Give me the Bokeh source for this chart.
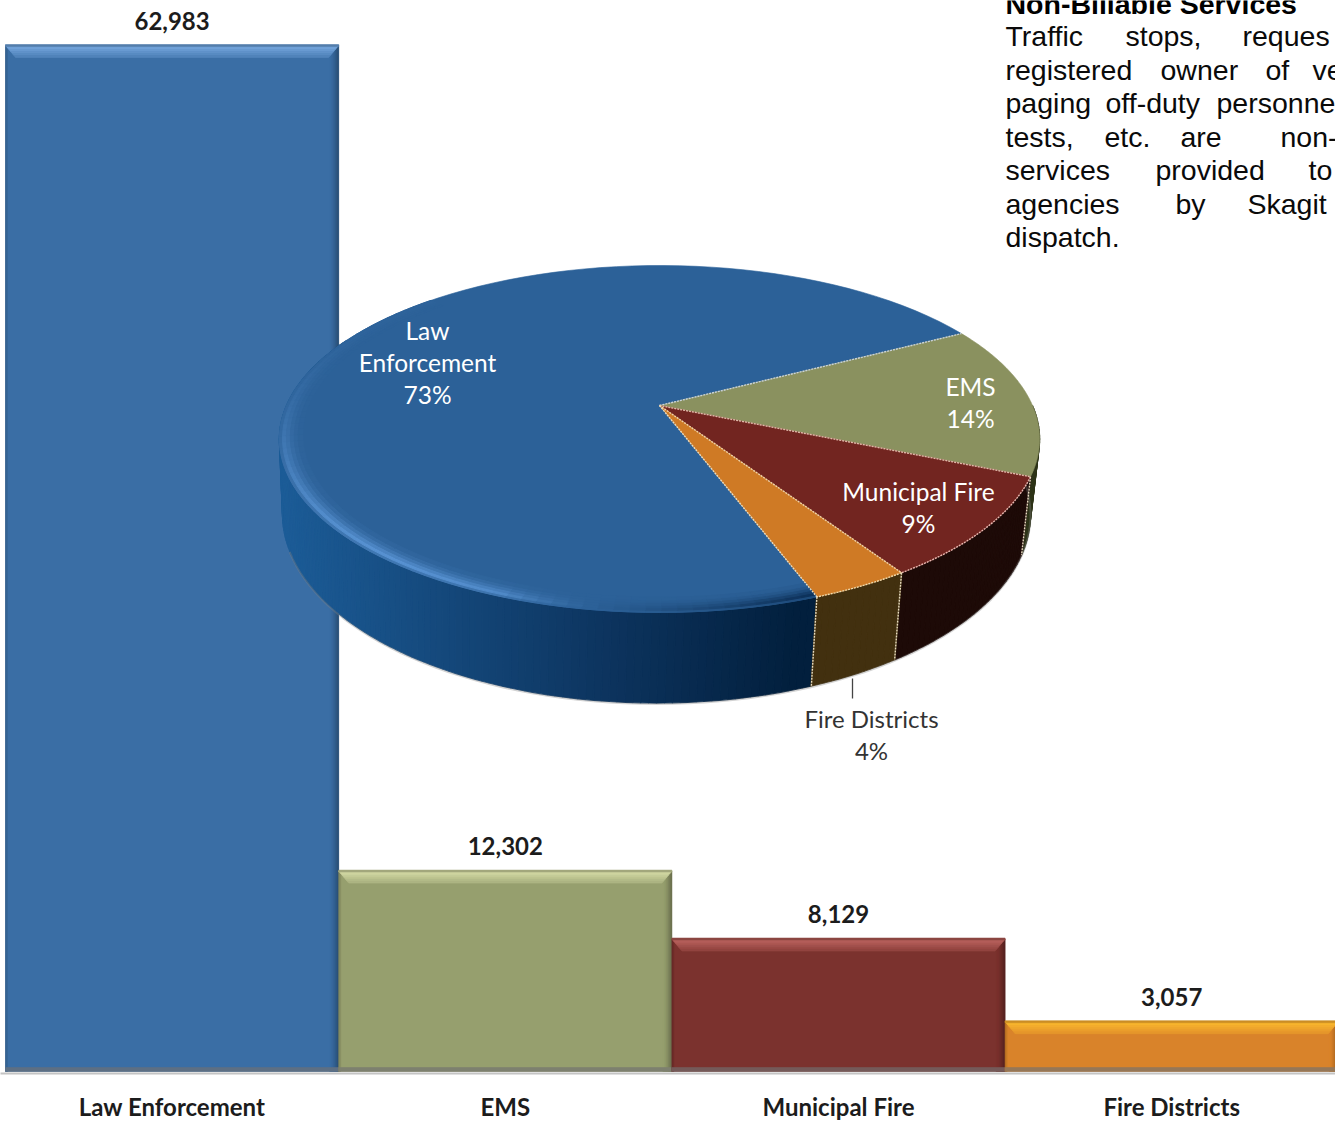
import math

from bokeh.core.properties import value
from bokeh.embed import file_html
from bokeh.models import ColumnDataSource, FixedTicker, Range1d
from bokeh.plotting import figure
from bokeh.resources import INLINE

# Dispatched non-billable services by agency type
categories = ["Law Enforcement", "EMS", "Municipal Fire", "Fire Districts"]
calls = [62983, 12302, 8129, 3057]
pie_labels = [["Law", "Enforcement", "73%"], ["EMS", "14%"], ["Municipal Fire", "9%"], ["Fire Districts", "4%"]]

bar_colors = ["#3a6ea5", "#969f6e", "#7b322e", "#d9832a"]
bevel_colors = ["#78a9e0", "#d6dca6", "#bd6560", "#fdbc2e"]
face_colors = ["#2c6198", "#8a915f", "#722520", "#cf7a25"]
wall_colors = ["#0c3058", "#2e3418", "#1d0a07", "#42300f"]

note_title = "Non-Billable Services"
note_rows = [
    ["Traffic", "stops,", "reques"],
    ["registered", "owner", "of", "ve"],
    ["paging", "off-duty", "personne"],
    ["tests,", "etc.", "are", "non-"],
    ["services", "provided", "to"],
    ["agencies", "by", "Skagit"],
    ["dispatch."],
]
note_word_x = [
    [1005, 1125, 1242],
    [1005, 1160, 1265, 1312],
    [1005, 1105, 1216],
    [1005, 1104, 1180, 1280],
    [1005, 1155, 1308],
    [1005, 1175, 1247],
    [1005],
]

WIDTH, HEIGHT = 1335, 1122
FRAME_H = 1073
ZERO_PX = 1071
TOP_PX = 45
PX_PER_CALL = (ZERO_PX - TOP_PX) / max(calls)
BAR_PX = 333.2
BAR_LEFT = 5

p = figure(
    width=WIDTH, height=HEIGHT, output_backend="svg", toolbar_location=None,
    x_range=Range1d(-BAR_LEFT / BAR_PX, (WIDTH - BAR_LEFT) / BAR_PX),
    y_range=Range1d(-(FRAME_H - ZERO_PX) / PX_PER_CALL, ZERO_PX / PX_PER_CALL),
    y_axis_location=None, min_border=0, frame_width=WIDTH, frame_height=FRAME_H,
    outline_line_color=None, background_fill_color="white",
)
p.grid.visible = False
p.extra_x_ranges["px"] = Range1d(0, WIDTH)
p.extra_y_ranges["px"] = Range1d(FRAME_H, 0)

axis = p.xaxis[0]
axis.ticker = FixedTicker(ticks=[i + 0.5 for i in range(len(categories))])
axis.major_label_overrides = {i + 0.5: c for i, c in enumerate(categories)}
axis.major_tick_line_color = None
axis.minor_tick_line_color = None
axis.axis_line_color = "#c4c4c4"
axis.axis_line_width = 2
axis.major_label_standoff = 12
axis.major_label_text_font = "Lato"
axis.major_label_text_font_style = "bold"
axis.major_label_text_font_size = "24px"
axis.major_label_text_color = "#1c1c1c"


def rgb(c):
    return tuple(int(c[i:i + 2], 16) for i in (1, 3, 5))


def mix(a, b, f):
    f = max(0.0, min(1.0, f))
    ca, cb = rgb(a), rgb(b)
    return "#%02x%02x%02x" % tuple(round(x + (y - x) * f) for x, y in zip(ca, cb))


def draw_patches(items, seam=0.6):
    """items are (xs, ys, colour) in page pixels."""
    p.patches(
        xs=[i[0] for i in items], ys=[i[1] for i in items],
        fill_color=[i[2] for i in items], line_color=[i[2] for i in items], line_width=seam,
        x_range_name="px", y_range_name="px",
    )


# Bars, with bevelled top and side edges
p.vbar(x=[i + 0.5 for i in range(len(calls))], top=calls, bottom=0, width=1.0,
       fill_color=bar_colors, line_color=None)

bevel = []
for i, v in enumerate(calls):
    left = BAR_LEFT + i * BAR_PX
    right = left + BAR_PX
    top = ZERO_PX - v * PX_PER_CALL
    base, light = bar_colors[i], bevel_colors[i]
    dark = mix(base, "#000000", 0.35)
    for k in range(8):
        f = k / 8
        x0, x1 = right - 9 + k * 9 / 8, right - 9 + (k + 1) * 9 / 8
        bevel.append(([x0, x1, x1, x0], [top, top, ZERO_PX, ZERO_PX], mix(base, dark, f ** 1.5)))
    for k in range(2):
        bevel.append(([left + k, left + k + 1, left + k + 1, left + k],
                      [top, top, ZERO_PX, ZERO_PX], mix(mix(dark, base, 0.5), base, k / 2)))
    for k in range(6):
        y0, y1 = top + k * 2, top + (k + 1) * 2
        inset0, inset1 = k * 10 / 6, (k + 1) * 10 / 6
        bevel.append(([left + inset0, right - inset0, right - inset1, left + inset1],
                      [y0, y0, y1, y1], mix(light, mix(base, light, 0.35), k / 5)))
    bevel.append(([left, right, right, left], [top - 1, top - 1, top + 1, top + 1], mix(light, dark, 0.45)))
    bevel.append(([left, right, right, left], [ZERO_PX - 4, ZERO_PX - 4, ZERO_PX, ZERO_PX], mix(base, "#707070", 0.65)))
draw_patches(bevel)

p.text(
    x=[i + 0.5 for i in range(len(calls))], y=calls,
    text=[f"{v:,}" for v in calls], y_offset=-25,
    text_align="center", text_baseline="middle",
    text_font=value("Lato"), text_font_style="bold", text_font_size="24px", text_color="#1c1c1c",
)

# Tilted pie: a unit circle seen through a perspective map
K = 0.193
total = sum(calls)
START = -28.0


def top_face(t, r=1.0):
    u, w = r * math.cos(math.radians(t)), r * math.sin(math.radians(t))
    d = 1 - K * w
    return 659 + 373 * u / d, 405 + 167 * w / d


def bottom_face(t):
    u, w = math.cos(math.radians(t)), math.sin(math.radians(t))
    d = 1 - K * w
    return 656 + 367 * u / d, 477 + 182 * w / d


# Slices run clockwise from EMS; Law Enforcement takes what is left of the circle
sweep = [v / total * 360 for v in calls]
ems_end = START + sweep[1]
muni_end = ems_end + sweep[2]
fire_end = muni_end + sweep[3]
law_end = START + 360

# Side wall
wall = []
t = 0.0
while t < 205:
    x0, y0 = top_face(t)
    x1, y1 = top_face(t + 1)
    bx0, by0 = bottom_face(t)
    bx1, by1 = bottom_face(t + 1)
    mid = t + 0.5
    if mid < ems_end:
        c = wall_colors[1]
    elif mid < muni_end:
        c = wall_colors[2]
    elif mid < fire_end:
        c = wall_colors[3]
    else:
        f = (x0 - 283) / (800 - 283)
        c = mix("#1c5c97", "#0d3560", f / 0.62) if f < 0.62 else mix("#0d3560", "#021f3d", (f - 0.62) / 0.38)
    wall.append(([x0, x1, bx1, bx0], [y0, y1, by1, by0], c))
    t += 1
draw_patches(wall, seam=1.2)

# Faint shadow under the wall
shadow = [bottom_face(a) for a in range(0, 160, 2)]
p.line([s[0] for s in shadow], [s[1] + 1 for s in shadow], line_color="#808080", line_alpha=0.35,
       line_width=2, x_range_name="px", y_range_name="px")


def wedge(a0, a1, color):
    pts = [top_face(a0 + (a1 - a0) * j / 90) for j in range(91)]
    return [659] + [q[0] for q in pts], [405] + [q[1] for q in pts], color


draw_patches([
    wedge(fire_end, law_end, face_colors[0]),
    wedge(START, ems_end, face_colors[1]),
    wedge(ems_end, muni_end, face_colors[2]),
    wedge(muni_end, fire_end, face_colors[3]),
])

# Bevel on the blue slice's rim: dark at the front, bright at the lower left
rim_radii = [1.0, 0.992, 0.982, 0.972, 0.962, 0.952, 0.94]
rim_profile = [0.45, 0.95, 0.7, 0.42, 0.22, 0.08]
rim = []
for band, strength_r in enumerate(rim_profile):
    r0, r1 = rim_radii[band], rim_radii[band + 1]
    a = fire_end
    while a < 225:
        q0, q1 = top_face(a, r0), top_face(a + 2, r0)
        q2, q3 = top_face(a + 2, r1), top_face(a, r1)
        if a < 98:
            c = mix(face_colors[0], "#0c3058", (98 - a) / 28 * strength_r)
        else:
            s = math.exp(-(((a - 128) / 42) ** 2))
            fade = min(1.0, (a - 98) / 12)
            c = mix(face_colors[0], "#5c97d8", (0.04 + 0.9 * s) * fade * strength_r)
        rim.append(([q0[0], q1[0], q2[0], q3[0]], [q0[1], q1[1], q2[1], q3[1]], c))
        a += 2
draw_patches(rim, seam=1.0)

# Dashed seams between the slices
seams = {"xs": [], "ys": [], "color": []}
for a, color in [(START, "#c9d2d8"), (ems_end, "#e0b8a8"), (muni_end, "#eed2a8"), (fire_end, "#e8dcc0")]:
    q = top_face(a)
    seams["xs"].append([659, q[0]])
    seams["ys"].append([405, q[1]])
    seams["color"].append(color)
for a0, a1, color in [(ems_end, muni_end, "#e8b8b0"), (muni_end, fire_end, "#f0dcb0")]:
    pts = [top_face(a0 + (a1 - a0) * j / 30) for j in range(31)]
    seams["xs"].append([q[0] for q in pts])
    seams["ys"].append([q[1] for q in pts])
    seams["color"].append(color)
for a in (ems_end, muni_end, fire_end):
    q, b = top_face(a), bottom_face(a)
    seams["xs"].append([q[0], b[0]])
    seams["ys"].append([q[1], b[1]])
    seams["color"].append("#e8dcc0")
p.multi_line("xs", "ys", source=ColumnDataSource(seams), line_color="color", line_width=1.4,
             line_dash="2 1", x_range_name="px", y_range_name="px")

# Slice labels
label_spots = [(427, 330), (970, 386), (918, 491), (871, 718)]
label_colors = ["#ffffff", "#ffffff", "#ffffff", "#333333"]
label_sizes = ["24.5px", "24.5px", "24.5px", "24px"]
for lines, (lx, ly), color, size in zip(pie_labels, label_spots, label_colors, label_sizes):
    p.text(
        x=[lx] * len(lines), y=[ly + j * 32 for j in range(len(lines))], text=lines,
        text_align="center", text_baseline="middle",
        text_font=value("Lato"), text_font_size=size, text_color=color,
        x_range_name="px", y_range_name="px",
    )
p.line([852, 852], [678, 698], line_color="#444444", line_width=1.3, x_range_name="px", y_range_name="px")

# Side note, word by word so the lines stay justified
p.text(x=[1005], y=[3], text=[note_title], text_baseline="middle",
       text_font=value("Liberation Sans"), text_font_style="bold", text_font_size="28.5px",
       text_color="#000000", x_range_name="px", y_range_name="px")
note_centres = [35.5, 69.5, 102.5, 136.5, 169.5, 203.5, 236.5]
for words, xs, centre in zip(note_rows, note_word_x, note_centres):
    p.text(x=xs, y=[centre] * len(words), text=words, text_baseline="middle",
           text_font=value("Liberation Sans"), text_font_size="28.5px",
           text_color="#0a0a0a", x_range_name="px", y_range_name="px")

open("out.html", "w").write(file_html(p, INLINE))
